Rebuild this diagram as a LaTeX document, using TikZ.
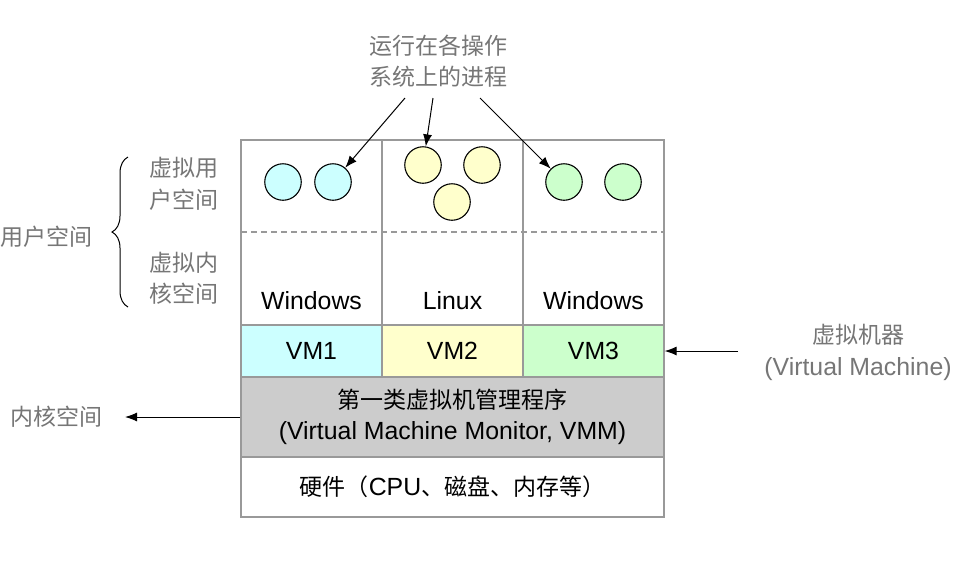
\documentclass[tikz,border=0pt]{standalone}
\usepackage{fontspec}
\setmainfont{Liberation Sans}[Scale=1.08]
\newfontfamily\cjk{Noto Sans CJK SC}
\usetikzlibrary{arrows.meta, decorations.pathreplacing}

\definecolor{boxgray}{RGB}{153,153,153}
\definecolor{labelgray}{RGB}{118,118,118}
\definecolor{vmcyan}{RGB}{204,255,255}
\definecolor{vmyellow}{RGB}{255,255,204}
\definecolor{vmgreen}{RGB}{204,255,204}
\definecolor{vmmgray}{RGB}{204,204,204}

\newcommand{\txt}{\fontsize{23}{31.5}\selectfont}

\tikzset{
  cell/.style={draw=boxgray, line width=1.2pt, minimum width=141pt, inner sep=0pt, font=\txt},
  proc/.style={circle, draw, line width=1.1pt, minimum size=36.5pt, inner sep=0pt},
  side/.style={text=labelgray, align=center, inner sep=0pt, font=\txt},
  cjkside/.style={side, font=\txt\cjk},
  arr/.style={-{Latex[length=12pt, width=9pt]}, line width=1pt},
}

\begin{document}
\begin{tikzpicture}[x=1pt, y=-1pt]
  \useasboundingbox (0,0) rectangle (973,566);

  % guest OS area
  \draw[boxgray, line width=1.2pt] (241,140) rectangle (664,325);
  \draw[boxgray, line width=1.2pt] (382,140) -- (382,325) (523,140) -- (523,325);
  \draw[boxgray, line width=1.2pt, dash pattern=on 6pt off 4pt] (241,232) -- (664,232);
  \node[font=\txt] (os1) at (311.5,301) {Windows};
  \node[font=\txt] (os2) at (452.5,301) {Linux};
  \node[font=\txt] (os3) at (593.5,301) {Windows};

  % processes
  \node[proc, fill=vmcyan] (w1) at (283,182) {};
  \node[proc, fill=vmcyan] (w2) at (333,182) {};
  \node[proc, fill=vmyellow] (l1) at (423,165) {};
  \node[proc, fill=vmyellow] (l2) at (482,165) {};
  \node[proc, fill=vmyellow] (l3) at (452,202) {};
  \node[proc, fill=vmgreen] (g1) at (564,182) {};
  \node[proc, fill=vmgreen] (g2) at (623,182) {};

  % VM row, VMM, hardware
  \node[cell, fill=vmcyan, minimum height=52pt] (vm1) at (311.5,351) {VM1};
  \node[cell, fill=vmyellow, minimum height=52pt] (vm2) at (452.5,351) {VM2};
  \node[cell, fill=vmgreen, minimum height=52pt] (vm3) at (593.5,351) {VM3};
  \node[cell, fill=vmmgray, minimum width=423pt, minimum height=80pt, align=center] (vmm) at (452.5,417)
    {{\cjk 第一类虚拟机管理程序}\\(Virtual Machine Monitor, VMM)};
  \node[cell, fill=white, minimum width=423pt, minimum height=60pt] (hw) at (452.5,487)
    {{\cjk 硬件（}CPU{\cjk 、磁盘、内存等）}};

  % labels
  \node[cjkside] (proclabel) at (438,61) {运行在各操作\\系统上的进程};
  \node[cjkside] (vuser) at (184,184) {虚拟用\\户空间};
  \node[cjkside] (vkernel) at (184,278.5) {虚拟内\\核空间};
  \node[cjkside] (user) at (46,237) {用户空间};
  \node[cjkside] (kernel) at (56,417) {内核空间};
  \node[side] (vmlabel) at (858,352.5) {{\cjk 虚拟机器}\\(Virtual Machine)};

  \coordinate (p1) at (405,98);
  \coordinate (p2) at (433,98);
  \coordinate (p3) at (480,98);
  \coordinate (vmtail) at (738,351);
  \coordinate (kerneltip) at (125,417);

  % arrows
  \draw[arr] (p1) -- (w2);
  \draw[arr] (p2) -- (l1);
  \draw[arr] (p3) -- (g1);
  \draw[arr] (vmtail) -- (vm3.east);
  \draw[arr] (vmm.west) -- (kerneltip);
  \draw[line width=1pt, decorate, decoration={brace, amplitude=16pt}] (128,307) -- (128,157);
\end{tikzpicture}
\end{document}
